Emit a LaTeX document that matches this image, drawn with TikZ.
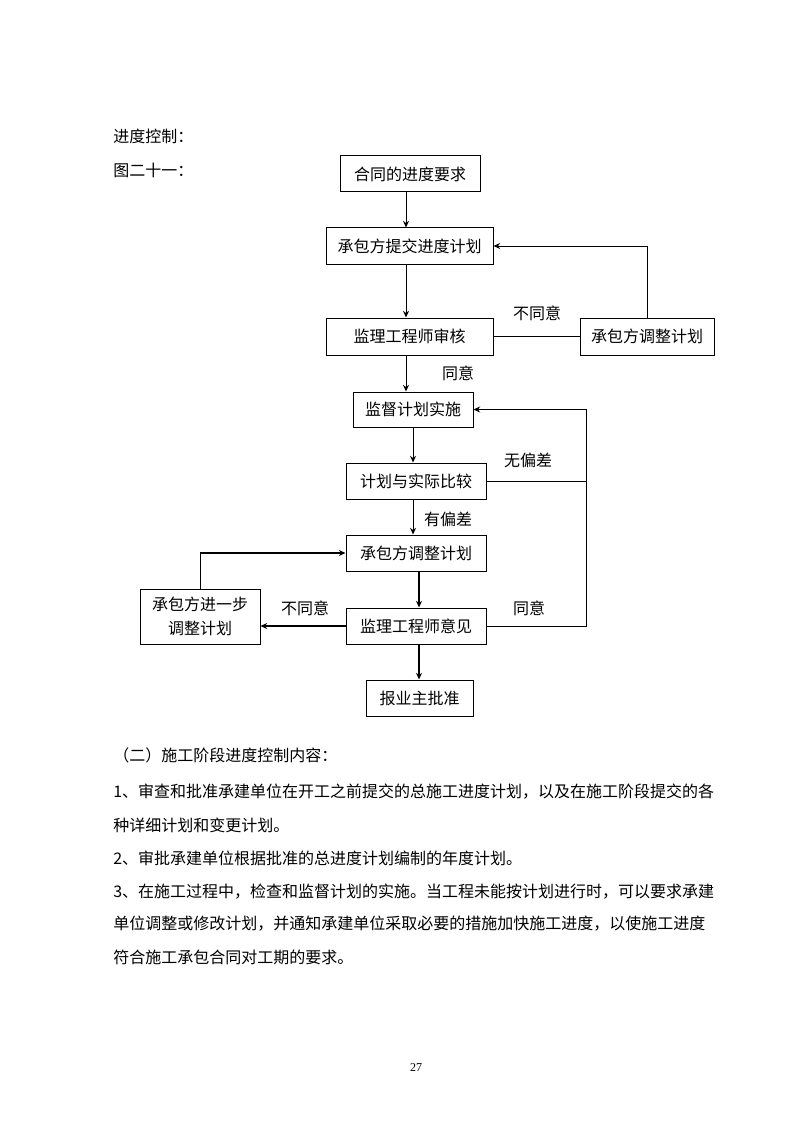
\documentclass[tikz,border=0pt]{standalone}
\usepackage{fontspec}
\setmainfont{Noto Sans CJK SC}
\newfontfamily\numfont{Liberation Serif}
\usetikzlibrary{arrows.meta}
\begin{document}
\begin{tikzpicture}[x=0.75pt,y=-0.75pt,
  font=\fontsize{12pt}{14pt}\selectfont,
  box/.style={draw,line width=0.75pt,inner sep=0pt,align=center},
  ln/.style={line width=0.75pt},
  thk/.style={line width=1.6pt},
  arr/.style={-{Stealth[length=5pt,width=4.5pt]}},
  lbl/.style={inner sep=0pt},
  para/.style={anchor=west,inner sep=0pt}]
\useasboundingbox[fill=white] (0,0) rectangle (794,1123);
% header texts
\node[para] (t1) at (113,136) {进度控制：};
\node[para] (t2) at (113,170) {图二十一：};
% boxes
\node[box,minimum width=140*0.75pt,minimum height=36*0.75pt] (A) at (410,174) {合同的进度要求};
\node[box,minimum width=167*0.75pt,minimum height=36*0.75pt] (B) at (409.5,246) {承包方提交进度计划};
\node[box,minimum width=167*0.75pt,minimum height=37*0.75pt] (C) at (409.5,336.5) {监理工程师审核};
\node[box,minimum width=134*0.75pt,minimum height=37*0.75pt] (D) at (647,336.5) {承包方调整计划};
\node[box,minimum width=120*0.75pt,minimum height=35*0.75pt] (E) at (413,409.5) {监督计划实施};
\node[box,minimum width=140*0.75pt,minimum height=36*0.75pt] (F) at (416,481) {计划与实际比较};
\node[box,minimum width=140*0.75pt,minimum height=36*0.75pt] (G) at (416,553) {承包方调整计划};
\node[box,minimum width=120*0.75pt,minimum height=55*0.75pt,font=\fontsize{12pt}{18pt}\selectfont] (H) at (200,616.5) {承包方进一步\\调整计划};
\node[box,minimum width=140*0.75pt,minimum height=36*0.75pt] (I) at (416,626) {监理工程师意见};
\node[box,minimum width=107*0.75pt,minimum height=36*0.75pt] (J) at (419.5,698) {报业主批准};
% helper coordinates for vertical connector lines
\coordinate (vx1) at (406,0);
\coordinate (vx2) at (413,0);
\coordinate (vx3) at (419,0);
\coordinate (loopx) at (586,0);
% connectors
\draw[ln,arr] (A.south -| vx1) -- (B.north -| vx1);
\draw[ln,arr] (B.south -| vx1) -- (C.north -| vx1);
\draw[ln,arr] (C.south -| vx1) -- (E.north -| vx1);
\draw[ln] (C.east) -- (D.west);
\draw[ln,arr] (D.north) |- (B.east);
\draw[ln,arr] (E.south -| vx2) -- (F.north -| vx2);
\draw[ln,arr] (F.south -| vx2) -- (G.north -| vx2);
\draw[thk,arr] (G.south -| vx3) -- (I.north -| vx3);
\draw[thk,arr] (I.south -| vx3) -- (J.north -| vx3);
\draw[ln] (F.east) -- (F.east -| loopx);
\draw[ln,arr] (I.east) -- (I.east -| loopx) -- (E.east -| loopx) -- (E.east);
\draw[thk,arr] (I.west) -- (I.west -| H.east);
\draw[ln] (H.north) -- (H.north |- G.west);
\draw[thk,arr] (H.north |- G.west) -- (G.west);
% labels
\node[lbl] (l1) at (537,313) {不同意};
\node[lbl] (l2) at (458,373) {同意};
\node[lbl] (l3) at (528,460) {无偏差};
\node[lbl] (l4) at (448,519) {有偏差};
\node[lbl] (l5) at (305,608) {不同意};
\node[lbl] (l6) at (529,608) {同意};
% body text
\node[para] (p0) at (113,755) {（二）施工阶段进度控制内容：};
\node[para] (p1) at (113,792) {1、审查和批准承建单位在开工之前提交的总施工进度计划，以及在施工阶段提交的各};
\node[para] (p2) at (113,825) {种详细计划和变更计划。};
\node[para] (p3) at (113,858) {2、审批承建单位根据批准的总进度计划编制的年度计划。};
\node[para] (p4) at (113,892) {3、在施工过程中，检查和监督计划的实施。当工程未能按计划进行时，可以要求承建};
\node[para] (p5) at (113,924) {单位调整或修改计划，并通知承建单位采取必要的措施加快施工进度，以使施工进度};
\node[para] (p6) at (113,957) {符合施工承包合同对工期的要求。};
\node[lbl,font=\numfont\fontsize{9pt}{10pt}\selectfont] (pg) at (416,1068) {27};
\end{tikzpicture}
\end{document}
